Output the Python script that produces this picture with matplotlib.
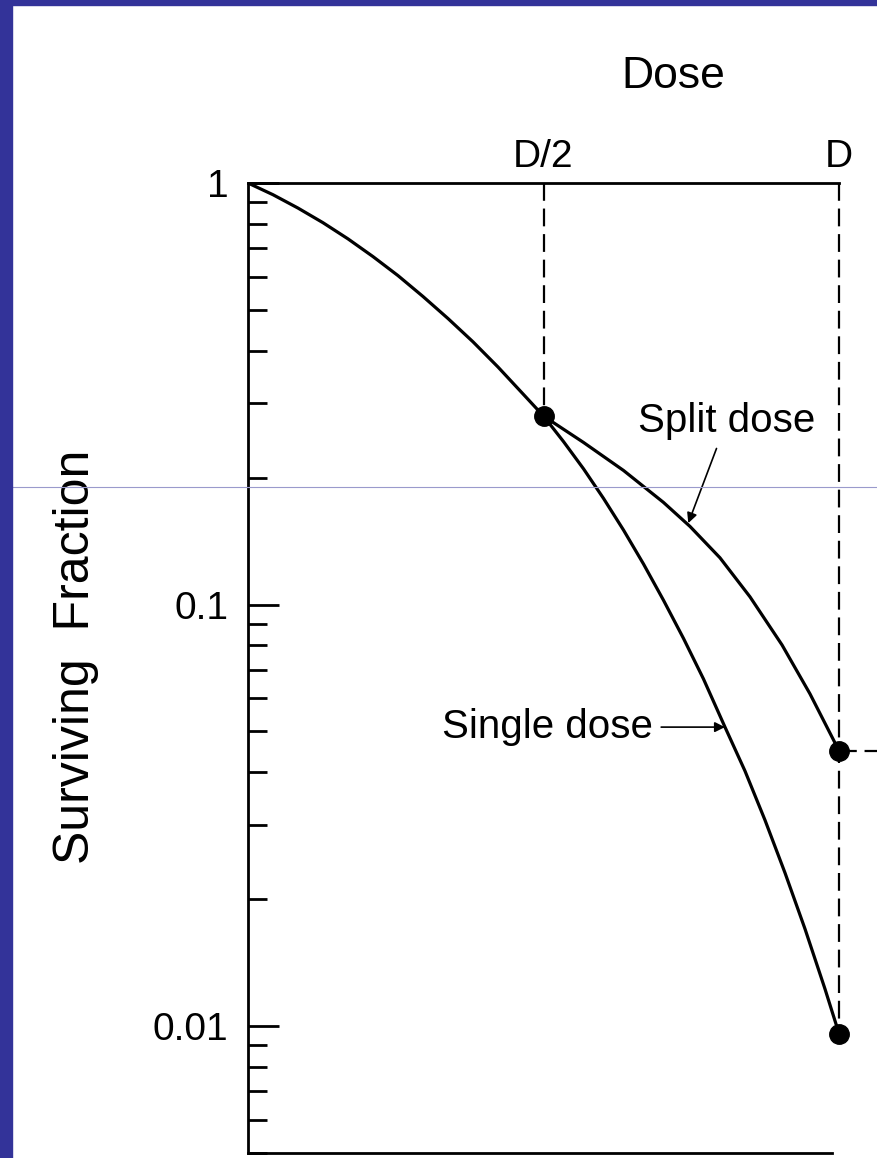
import matplotlib.pyplot as plt
from matplotlib.lines import Line2D
from matplotlib.patches import Rectangle
from matplotlib.ticker import FixedLocator, NullFormatter

plt.rcParams['font.family'] = ['Liberation Sans', 'DejaVu Sans']

# dose in units of D, surviving fraction
single_dose = [0.0, 0.0423, 0.0846, 0.1269, 0.1692, 0.2115, 0.2538, 0.2961,
               0.3384, 0.3807, 0.4230, 0.4653, 0.5, 0.5338, 0.5677, 0.6015,
               0.6354, 0.6692, 0.7030, 0.7369, 0.7707, 0.8071, 0.8409,
               0.8748, 0.9086, 0.9425, 0.9763, 1.0]
single_sf = [1.0, 0.938, 0.872, 0.805, 0.737, 0.669, 0.603, 0.538, 0.477,
             0.420, 0.366, 0.316, 0.28, 0.2436, 0.2099, 0.1786, 0.1502,
             0.1248, 0.1024, 0.0831, 0.0666, 0.0512, 0.0403, 0.0308,
             0.0231, 0.0170, 0.01225, 0.0096]

split_dose = [0.5, 0.5677, 0.6354, 0.7030, 0.7479, 0.7986, 0.8494, 0.9036,
              0.9509, 1.0]
split_sf = [0.28, 0.2424, 0.2080, 0.1747, 0.1532, 0.1291, 0.1043, 0.0802,
            0.0614, 0.045]

points_dose = [0.5, 1.0, 1.0]
points_sf = [0.28, 0.045, 0.0096]

xtick_pos = [0.5, 1.0]
xtick_labels = ['D/2', 'D']
ytick_pos = [1, 0.1, 0.01]
ytick_labels = ['1', '0.1', '0.01']

W, H = 877, 1158
fig = plt.figure(figsize=(W / 100, H / 100), dpi=100)
ax = fig.add_axes([248 / W, 1 - 1153 / H, (839 - 248) / W, (1153 - 183) / H])

ax.set_yscale('log')
ax.set_xlim(0, 1)
ax.set_ylim(0.005, 1)

ax.plot(single_dose, single_sf, color='black', lw=2.3,
        solid_capstyle='round', solid_joinstyle='round')
ax.plot(split_dose, split_sf, color='black', lw=2.3,
        solid_capstyle='round', solid_joinstyle='round')
ax.plot(points_dose, points_sf, 'o', color='black', ms=14, zorder=5,
        clip_on=False)

# dashed guides
dash = (0, (8, 3.5))
ax.plot([0.5, 0.5], [1, points_sf[0]], color='black', lw=1.6, linestyle=dash)
ax.plot([1.0, 1.0], [1, points_sf[2]], color='black', lw=1.6, linestyle=dash,
        clip_on=False)
ax.plot([1.0, 1.08], [points_sf[1]] * 2, color='black', lw=1.6,
        linestyle=dash, clip_on=False)

ax.spines['right'].set_visible(False)
ax.spines['bottom'].set_bounds(0, 0.988)
for s in ['top', 'left', 'bottom']:
    ax.spines[s].set_linewidth(2)

ax.xaxis.tick_top()
ax.set_xticks(xtick_pos)
ax.set_xticklabels(xtick_labels, fontsize=28)
ax.tick_params(axis='x', length=0, pad=6)

ax.yaxis.set_major_locator(FixedLocator(ytick_pos))
ax.set_yticklabels(ytick_labels, fontsize=28)
minors = [m * 10.0 ** e for e in (-3, -2, -1) for m in range(2, 10)]
ax.yaxis.set_minor_locator(FixedLocator([v for v in minors if v >= 0.005]))
ax.yaxis.set_minor_formatter(NullFormatter())
ax.tick_params(axis='y', which='major', direction='in', length=22, width=2, pad=14)
ax.tick_params(axis='y', which='minor', direction='in', length=14, width=2)

ax.set_ylabel('Surviving  Fraction', fontsize=36, va='center')
ax.yaxis.set_label_coords(-0.291, 0.512)
fig.text(673 / W, 1 - 77 / H, 'Dose', fontsize=32, ha='center', va='center')

ax.annotate('Single dose', xy=(0.807, 0.0512), xytext=(0.685, 0.0512),
            fontsize=29, ha='right', va='center',
            arrowprops=dict(arrowstyle='-|>', color='black', lw=1.2,
                            mutation_scale=15, shrinkA=4, shrinkB=0))
ax.annotate('Split dose', xy=(0.745, 0.156), xytext=(0.81, 0.245),
            fontsize=29, ha='center', va='bottom',
            arrowprops=dict(arrowstyle='-|>', color='black', lw=1.2,
                            mutation_scale=15, shrinkA=4, shrinkB=0))

# frame of the slide
border = '#333399'
fig.add_artist(Rectangle((0, 0), 12 / W, 1, transform=fig.transFigure,
                         color=border, zorder=10))
fig.add_artist(Rectangle((0, 1 - 5 / H), 1, 5 / H, transform=fig.transFigure,
                         color=border, zorder=10))
fig.add_artist(Line2D([7 / W, 1], [1 - 487 / H] * 2, transform=fig.transFigure,
                      color='#9a9acc', lw=0.8, zorder=9))

fig.savefig('out.png', dpi=100)
